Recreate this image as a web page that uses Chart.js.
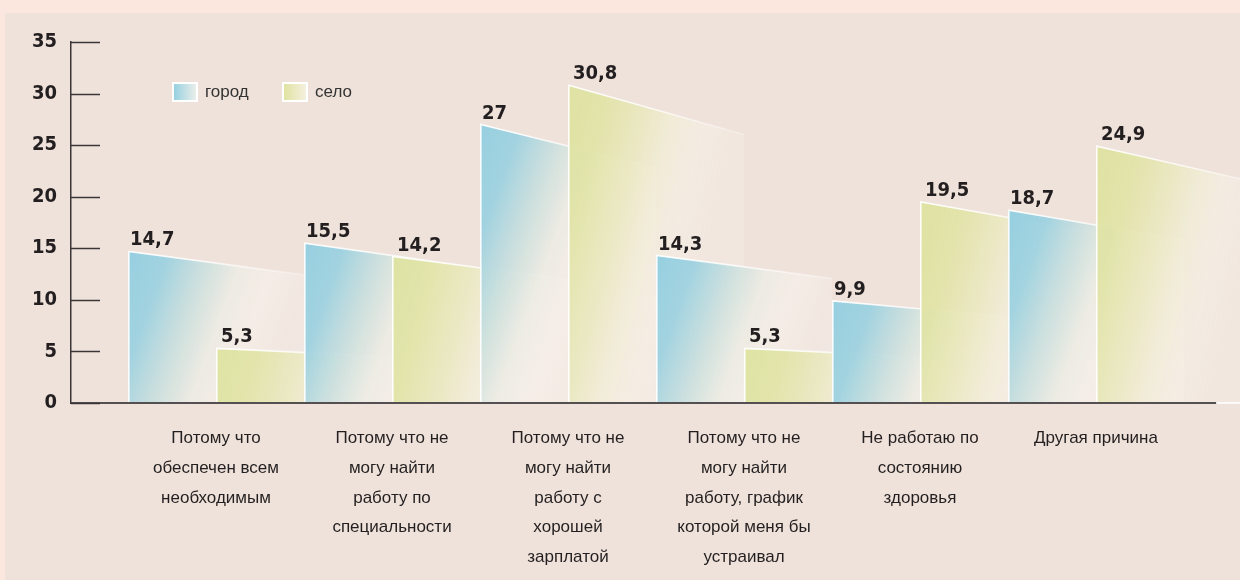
<!DOCTYPE html>
<html lang="ru">
<head>
<meta charset="utf-8">
<title>Причины незанятости: город и село</title>
<script src="https://cdn.jsdelivr.net/npm/chart.js@4.4.1/dist/chart.umd.min.js"></script>
<style>
  html, body { margin: 0; padding: 0; background: #fbe7dd; }
  #wrap { position: relative; width: 1240px; height: 580px; overflow: hidden; }
  #panel { position: absolute; left: 5px; top: 13px; right: 0; bottom: 0; background: #efe2da; }
  #chart { position: absolute; left: 0; top: 0; }
</style>
</head>
<body>
<div id="wrap">
  <div id="panel"></div>
  <canvas id="chart" width="1240" height="580"></canvas>
</div>
<script>
const categories = [
    ['Потому что', 'обеспечен всем', 'необходимым'],
    ['Потому что не', 'могу найти', 'работу по', 'специальности'],
    ['Потому что не', 'могу найти', 'работу с', 'хорошей', 'зарплатой'],
    ['Потому что не', 'могу найти', 'работу, график', 'которой меня бы', 'устраивал'],
    ['Не работаю по', 'состоянию', 'здоровья'],
    ['Другая причина']
];
const seriesNames = ['город', 'село'];
const cityValues = [14.7, 15.5, 27, 14.3, 9.9, 18.7];
const villageValues = [5.3, 14.2, 30.8, 5.3, 19.5, 24.9];
const yTickValues = [0, 5, 10, 15, 20, 25, 30, 35];

const DARK = '#231f20';
const AXIS = '#545052';
const NUM_FONT = "'DejaVu Sans Condensed', 'DejaVu Sans', sans-serif";
const TEXT_FONT = "'Liberation Sans', Arial, sans-serif";

// fill styles for the two series: gradient direction + colour stops
const barStyles = [
    {
        dir: [0.94, 0.34],
        stops: [
            [0.00, 'rgba(146,206,224,0.96)'],
            [0.22, 'rgba(156,209,224,0.93)'],
            [0.45, 'rgba(204,224,222,0.88)'],
            [0.62, 'rgba(236,236,228,0.85)'],
            [0.80, 'rgba(246,240,234,0.72)'],
            [1.00, 'rgba(246,240,234,0.40)']
        ],
        box: ['#93cfe0', '#eef0ea']
    },
    {
        dir: [0.97, 0.25],
        stops: [
            [0.00, 'rgba(221,226,158,0.93)'],
            [0.22, 'rgba(224,227,164,0.91)'],
            [0.45, 'rgba(233,232,190,0.87)'],
            [0.62, 'rgba(241,237,214,0.80)'],
            [0.80, 'rgba(246,240,230,0.62)'],
            [1.00, 'rgba(246,240,232,0.35)']
        ],
        box: ['#dfe29e', '#f5f1e3']
    }
];

function formatValue(v) {
    return String(v).replace('.', ',');
}

// bar with a sloping top whose faded tail runs one more bar width to the right
function drawBar(ctx, p, style) {
    const x0 = p.x - p.width / 2;
    const len = p.width * 2;
    const h = p.base - p.y;
    const drop = h * 0.155;

    const g = ctx.createLinearGradient(x0, p.y, x0 + len * style.dir[0], p.y + len * style.dir[1]);
    style.stops.forEach(s => g.addColorStop(s[0], s[1]));

    ctx.save();
    ctx.beginPath();
    ctx.moveTo(x0, p.base);
    ctx.lineTo(x0, p.y);
    ctx.lineTo(x0 + len, p.y + drop);
    ctx.lineTo(x0 + len, p.base);
    ctx.closePath();
    ctx.fillStyle = g;
    ctx.fill();

    const edge = ctx.createLinearGradient(x0, 0, x0 + len, 0);
    edge.addColorStop(0, 'rgba(255,255,255,0.95)');
    edge.addColorStop(0.5, 'rgba(255,255,255,0.75)');
    edge.addColorStop(1, 'rgba(255,255,255,0.25)');
    ctx.strokeStyle = edge;
    ctx.lineWidth = 1.6;
    ctx.beginPath();
    ctx.moveTo(x0 + 0.8, p.base);
    ctx.lineTo(x0 + 0.8, p.y);
    ctx.lineTo(x0 + len, p.y + drop);
    ctx.stroke();
    ctx.restore();
}

const slantedBars = {
    id: 'slantedBars',
    afterDatasetsDraw(chart) {
        const ctx = chart.ctx;
        const metas = [chart.getDatasetMeta(0), chart.getDatasetMeta(1)];
        const props = metas.map(m => m.data.map(el => el.getProps(['x', 'y', 'base', 'width'], true)));

        // left to right so each bar lies over the tail of the previous one
        for (let i = 0; i < categories.length; i++) {
            for (let d = 0; d < metas.length; d++) {
                drawBar(ctx, props[d][i], barStyles[d]);
            }
        }

        // value labels
        ctx.save();
        ctx.font = 'bold 20px ' + NUM_FONT;
        ctx.fillStyle = DARK;
        ctx.textAlign = 'left';
        ctx.textBaseline = 'alphabetic';
        const offsets = [2, 5];
        for (let d = 0; d < metas.length; d++) {
            const values = chart.data.datasets[d].data;
            props[d].forEach((p, i) => {
                const x0 = p.x - p.width / 2;
                ctx.fillText(formatValue(values[i].y), x0 + offsets[d], p.y - 6);
            });
        }
        ctx.restore();
    },
    afterDraw(chart) {
        const ctx = chart.ctx;
        const area = chart.chartArea;
        const yScale = chart.scales.y;

        ctx.save();
        // baseline on top of the bar feet
        ctx.strokeStyle = AXIS;
        ctx.lineWidth = 2;
        ctx.beginPath();
        ctx.moveTo(area.left, area.bottom);
        ctx.lineTo(area.right, area.bottom);
        ctx.stroke();

        // light continuation of the baseline past the axis end
        ctx.strokeStyle = 'rgba(255,255,255,0.8)';
        ctx.beginPath();
        ctx.moveTo(area.right, area.bottom);
        ctx.lineTo(chart.width, area.bottom);
        ctx.stroke();

        // tick marks pointing into the plot
        ctx.strokeStyle = '#3a3536';
        ctx.lineWidth = 1.5;
        yScale.ticks.forEach(t => {
            const y = Math.round(yScale.getPixelForValue(t.value)) + 0.5;
            ctx.beginPath();
            ctx.moveTo(area.left, y);
            ctx.lineTo(area.left + 29, y);
            ctx.stroke();
        });

        // legend
        ctx.font = '17px ' + TEXT_FONT;
        ctx.textBaseline = 'middle';
        const lx = [area.left + 102, area.left + 212];
        const ly = area.top + 41;
        seriesNames.forEach((name, d) => {
            const g = ctx.createLinearGradient(lx[d], 0, lx[d] + 24, 0);
            g.addColorStop(0, barStyles[d].box[0]);
            g.addColorStop(1, barStyles[d].box[1]);
            ctx.fillStyle = '#ffffff';
            ctx.fillRect(lx[d] - 1, ly - 1, 26, 20);
            ctx.fillStyle = g;
            ctx.fillRect(lx[d] + 1, ly + 1, 22, 16);
            ctx.fillStyle = '#333';
            ctx.fillText(name, lx[d] + 32, ly + 9);
        });
        ctx.restore();
    }
};

const toPoints = arr => arr.map((v, i) => ({ x: i, y: v }));

new Chart(document.getElementById('chart'), {
    type: 'bar',
    data: {
        datasets: [
            { label: seriesNames[0], data: toPoints(cityValues), backgroundColor: 'rgba(0,0,0,0)' },
            { label: seriesNames[1], data: toPoints(villageValues), backgroundColor: 'rgba(0,0,0,0)' }
        ]
    },
    options: {
        responsive: false,
        animation: false,
        devicePixelRatio: 1,
        categoryPercentage: 1,
        barPercentage: 1,
        layout: { padding: { top: 42, right: 24, bottom: 0, left: 0 } },
        plugins: {
            legend: { display: false },
            tooltip: { enabled: false }
        },
        scales: {
            x: {
                type: 'linear',
                offset: false,
                min: -0.824,
                max: 5.682,
                grid: { display: false, drawTicks: false, offset: false },
                border: { display: true, color: AXIS, width: 2 },
                ticks: {
                    stepSize: 1,
                    includeBounds: false,
                    autoSkip: false,
                    maxRotation: 0,
                    padding: 21,
                    color: DARK,
                    font: { family: TEXT_FONT, size: 17, lineHeight: 1.74 },
                    callback: value => categories[value] || ''
                },
                afterFit: scale => { scale.height = 177; }
            },
            y: {
                min: yTickValues[0],
                max: yTickValues[yTickValues.length - 1],
                grid: { display: false, drawTicks: false },
                border: { display: true, color: '#3a3536', width: 1.5 },
                ticks: {
                    stepSize: yTickValues[1] - yTickValues[0],
                    padding: 14,
                    color: DARK,
                    font: { family: NUM_FONT, size: 20, weight: 'bold' }
                },
                afterFit: scale => { scale.width = 71; }
            }
        }
    },
    plugins: [slantedBars]
});
</script>
</body>
</html>
